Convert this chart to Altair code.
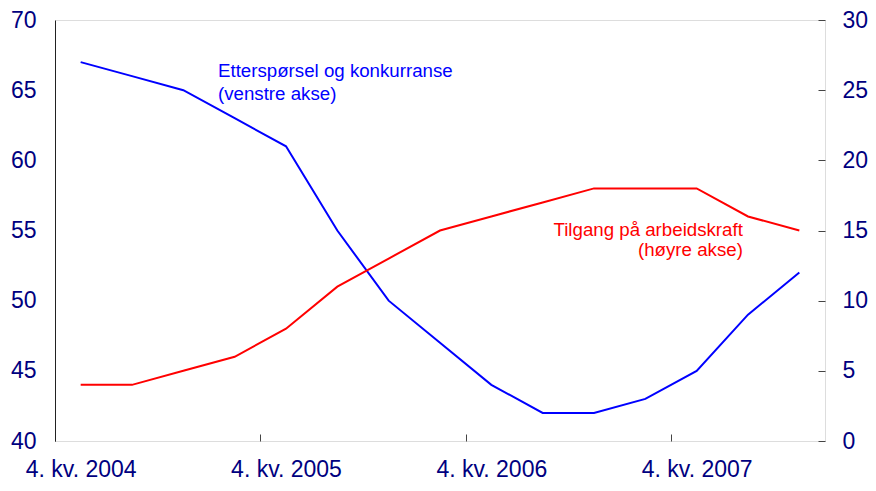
import altair as alt
import pandas as pd

quarters = ["4. kv. 2004", "1. kv. 2005", "2. kv. 2005", "3. kv. 2005",
            "4. kv. 2005", "1. kv. 2006", "2. kv. 2006", "3. kv. 2006",
            "4. kv. 2006", "1. kv. 2007", "2. kv. 2007", "3. kv. 2007",
            "4. kv. 2007", "1. kv. 2008", "2. kv. 2008"]
etterspoersel = [67, 66, 65, 63, 61, 55, 50, 47, 44, 42, 42, 43, 45, 49, 52]
tilgang = [4, 4, 5, 6, 8, 11, 13, 15, 16, 17, 18, 18, 18, 16, 15]

left_ticks = [40, 45, 50, 55, 60, 65, 70]
right_ticks = [0, 5, 10, 15, 20, 25, 30]
x_tick_values = [0, 4, 8, 12]

W, H = 770, 421
band = W / len(quarters)
FONT = "Liberation Sans"
NAVY = "#000080"

df = pd.DataFrame({
    "kvartal": quarters,
    "pos": [i + 0.5 for i in range(len(quarters))],
    "etterspoersel": etterspoersel,
    "tilgang": tilgang,
})

label_arr = "[" + ",".join("'" + q + "'" for q in quarters) + "]"

x_scale = alt.Scale(domain=[0, len(quarters)], nice=False, zero=False)
x_axis = alt.Axis(values=x_tick_values, labelExpr=label_arr + "[datum.value]",
                  title=None, grid=False, domain=False, ticks=True, tickSize=7,
                  offset=-7, tickColor="#444444", labelOffset=band / 2,
                  labelPadding=17, labelFont=FONT, labelFontSize=23,
                  labelColor=NAVY, labelAlign="center")

yl_scale = alt.Scale(domain=[40, 70], nice=False, zero=False)
yl_axis = alt.Axis(values=left_ticks, orient="left", title=None, grid=False,
                   ticks=False, domain=True, domainColor="#222222",
                   labelPadding=19, labelFont=FONT, labelFontSize=23,
                   labelColor=NAVY)
yr_scale = alt.Scale(domain=[0, 30], nice=False, zero=False)
yr_axis = alt.Axis(values=right_ticks, orient="right", title=None, grid=False,
                   ticks=True, tickSize=7, offset=-7, tickColor="#444444",
                   domain=False, labelPadding=17, labelFont=FONT,
                   labelFontSize=23, labelColor=NAVY)

X = alt.X("pos:Q", scale=x_scale, axis=x_axis)

blue_line = alt.Chart(df).mark_line(color="#0000FF", strokeWidth=2).encode(
    x=X, y=alt.Y("etterspoersel:Q", scale=yl_scale, axis=yl_axis))
red_line = alt.Chart(df).mark_line(color="#FF0000", strokeWidth=2).encode(
    x=X, y=alt.Y("tilgang:Q", scale=yr_scale, axis=yr_axis))

ann_blue = pd.DataFrame({"pos": [3.175], "etterspoersel": [65.95],
                         "tekst": ["Etterspørsel og konkurranse\n(venstre akse)"]})
ann_red = pd.DataFrame({"pos": [13.4], "tilgang": [14.6],
                        "tekst": ["Tilgang på arbeidskraft\n(høyre akse)"]})

blue_text = alt.Chart(ann_blue).mark_text(
    align="left", baseline="alphabetic", font=FONT, fontSize=18.7,
    color="#0000FF", lineBreak="\n", lineHeight=23).encode(
    x=X, y=alt.Y("etterspoersel:Q", scale=yl_scale, axis=yl_axis),
    text="tekst:N")
red_text = alt.Chart(ann_red).mark_text(
    align="right", baseline="alphabetic", font=FONT, fontSize=18.7,
    color="#FF0000", lineBreak="\n", lineHeight=20).encode(
    x=X, y=alt.Y("tilgang:Q", scale=yr_scale, axis=yr_axis),
    text="tekst:N")

left = alt.layer(blue_line, blue_text)
right = alt.layer(red_line, red_text)

chart = alt.layer(left, right).resolve_scale(y="independent").properties(
    width=W, height=H,
    autosize=alt.AutoSizeParams(type="none"),
    padding={"left": 47, "top": 12, "right": 43, "bottom": 42},
).configure_view(stroke="#333333", strokeWidth=1).configure(background="white")

chart.save("out.html", embed_options={"renderer": "svg", "actions": False})
